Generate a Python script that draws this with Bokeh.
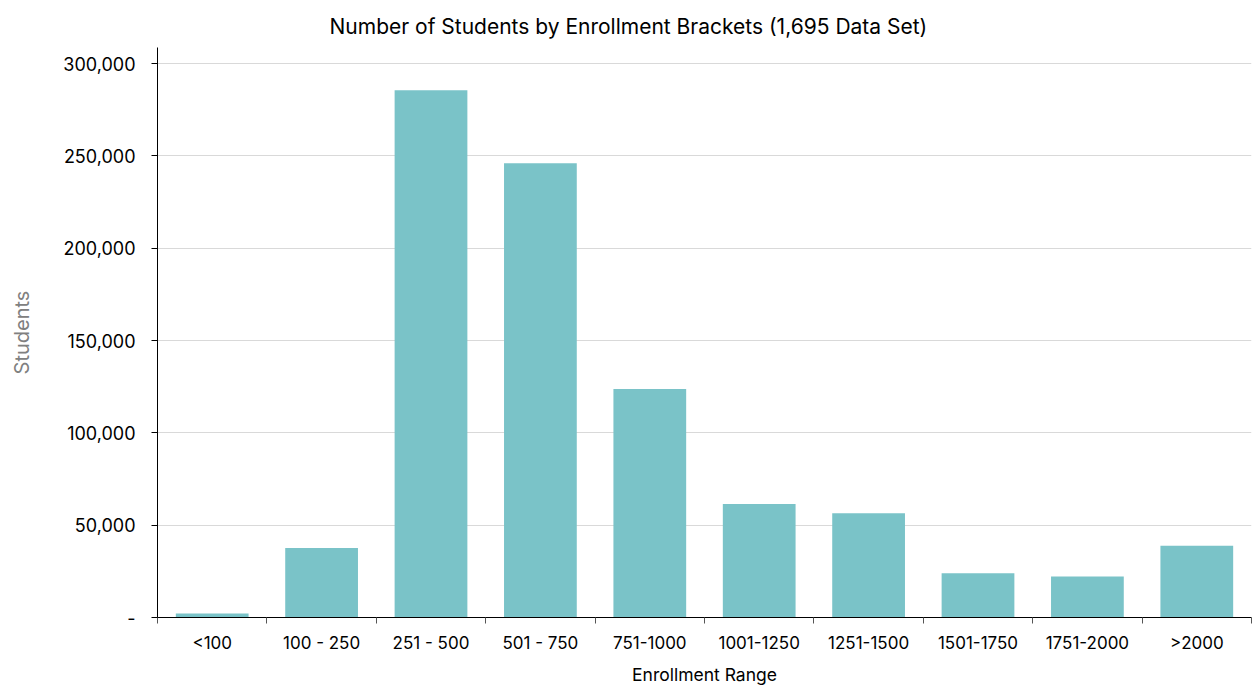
from bokeh.plotting import figure
from bokeh.models import (ColumnDataSource, FixedTicker, NumeralTickFormatter, Range1d, Title)
from bokeh.embed import file_html
from bokeh.resources import INLINE

categories = ["<100", "100 - 250", "251 - 500", "501 - 750", "751-1000",
              "1001-1250", "1251-1500", "1501-1750", "1751-2000", ">2000"]
students = [2200, 37700, 285600, 246000, 123700, 61500, 56500, 24000, 22200, 38800]
y_ticks = [0, 50000, 100000, 150000, 200000, 250000, 300000]

FONT = "Inter"
xs = [i + 0.5 for i in range(len(categories))]
src = ColumnDataSource(dict(x=xs, top=students, cat=categories))

p = figure(width=1252, height=687, output_backend="svg", toolbar_location=None,
           x_range=Range1d(0, len(categories)), y_range=Range1d(0, 308700),
           min_border_left=157, min_border_right=1, min_border_top=47, min_border_bottom=70)
p.title = Title(text="Number of Students by Enrollment Brackets (1,695 Data Set)",
                align="left", offset=172, text_font=FONT, text_font_size="21px",
                text_font_style="normal", text_color="#000000", standoff=17)
p.outline_line_color = None
p.background_fill_color = "white"

p.vbar(x="x", top="top", width=0.665, source=src, fill_color="#7AC3C8", line_color=None)

# x axis
p.xaxis.ticker = FixedTicker(ticks=xs, minor_ticks=list(range(len(categories) + 1)))
p.xaxis.major_label_overrides = {x: c for x, c in zip(xs, categories)}
p.xaxis.major_tick_line_color = None
p.xaxis.major_tick_in = 0
p.xaxis.major_tick_out = 0
p.xaxis.minor_tick_line_color = "#555555"
p.xaxis.minor_tick_in = 0
p.xaxis.minor_tick_out = 6
p.xaxis.axis_line_color = "#000000"
p.xaxis.major_label_standoff = 9
p.xaxis.major_label_text_font = FONT
p.xaxis.major_label_text_font_size = "17px"
p.xaxis.major_label_text_color = "#000000"
p.xaxis.axis_label = "Enrollment Range"
p.xaxis.axis_label_text_font = FONT
p.xaxis.axis_label_text_font_size = "17.5px"
p.xaxis.axis_label_text_font_style = "normal"
p.xaxis.axis_label_text_color = "#000000"
p.xaxis.axis_label_standoff = 8

# y axis
p.yaxis.ticker = FixedTicker(ticks=y_ticks, minor_ticks=[])
p.yaxis.formatter = NumeralTickFormatter(format="0,0")
p.yaxis.major_label_overrides = {0: "-"}
p.yaxis.major_tick_in = 0
p.yaxis.major_tick_out = 6
p.yaxis.major_tick_line_color = "#000000"
p.yaxis.axis_line_color = "#000000"
p.yaxis.major_label_standoff = 16
p.yaxis.major_label_text_font = FONT
p.yaxis.major_label_text_font_size = "18px"
p.yaxis.major_label_text_color = "#000000"
p.yaxis.axis_label = "Students"
p.yaxis.axis_label_text_font = FONT
p.yaxis.axis_label_text_font_size = "20px"
p.yaxis.axis_label_text_font_style = "normal"
p.yaxis.axis_label_text_color = "#808080"
p.yaxis.axis_label_standoff = 26

p.xgrid.grid_line_color = None
p.ygrid.ticker = FixedTicker(ticks=y_ticks)
p.ygrid.grid_line_color = "#d9d9d9"
p.ygrid.grid_line_width = 1

open("out.html", "w").write(file_html(p, INLINE))
